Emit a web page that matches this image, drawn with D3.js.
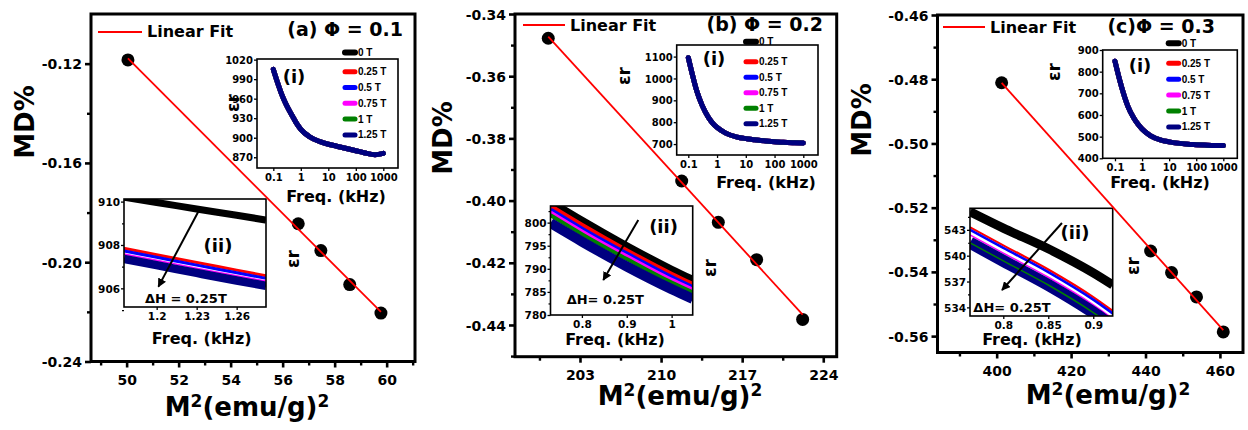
<!DOCTYPE html>
<html><head><meta charset="utf-8">
<script src="https://cdn.jsdelivr.net/npm/d3@7"></script>
<style>
html,body{margin:0;padding:0;background:#fff;}
svg{display:block;}
text{font-family:"DejaVu Sans","Liberation Sans",sans-serif;font-weight:bold;fill:#000;}
</style></head><body>
<svg id="chart" width="1248" height="430"></svg>
<script>
// ---------------- DATA ----------------
const panelIds = ["a", "b", "c"];
const titles = ["(a) \u03A6 = 0.1", "(b) \u03A6 = 0.2", "(c)\u03A6 = 0.3"];
const fitLabel = "Linear Fit";
const fields = ["0 T", "0.25 T", "0.5 T", "0.75 T", "1 T", "1.25 T"];
const fieldColors = ["#000000", "#ff0000", "#0000ff", "#ff00ff", "#008000", "#000080"];

// main panels: M^2 vs MD%
const aM2 = [50.05, 56.6, 57.47, 58.58, 59.78];
const aMD = [-0.1185, -0.1845, -0.1953, -0.2090, -0.2205];
const bM2 = [200.26, 211.78, 214.94, 218.25, 222.22];
const bMD = [-0.3478, -0.3937, -0.4070, -0.4190, -0.4382];
const cM2 = [401.34, 441.38, 447.0, 453.7, 460.9];
const cMD = [-0.4811, -0.5335, -0.5402, -0.5478, -0.5587];

const aXTicks = [50, 52, 54, 56, 58, 60];
const aYTicks = [-0.24, -0.20, -0.16, -0.12];
const bXTicks = [203, 210, 217, 224];
const bYTicks = [-0.44, -0.42, -0.40, -0.38, -0.36, -0.34];
const cXTicks = [400, 420, 440, 460];
const cYTicks = [-0.56, -0.54, -0.52, -0.50, -0.48, -0.46];
const aXMinor = [49, 51, 53, 55, 57, 59, 61];
const aYMinor = [-0.22, -0.18, -0.14];
const bXMinor = [199.5, 206.5, 213.5, 220.5];
const bYMinor = [-0.45, -0.43, -0.41, -0.39, -0.37, -0.35];
const cXMinor = [390, 410, 430, 450];
const cYMinor = [-0.55, -0.53, -0.51, -0.49, -0.47];

// inset (i): permittivity vs frequency (all fields overlap)
const freqI = [0.1, 0.15, 0.2, 0.3, 0.5, 0.7, 1, 2, 5, 10, 20, 50, 100, 200, 500, 1000];
const aEpsI = [1005, 982, 967, 950, 933, 922, 913, 902, 894, 890, 887, 883, 880, 877, 874, 876];
const bEpsI = [1095, 1000, 940, 878, 822, 796, 776, 750, 732, 725, 720, 714, 711, 708, 706, 705];
const cEpsI = [848, 760, 705, 640, 585, 558, 535, 505, 484, 476, 470, 465, 463, 461, 459, 459];
const freqITicks = [0.1, 1, 10, 100, 1000];
const aEpsITicks = [870, 900, 930, 960, 990, 1020];
const bEpsITicks = [700, 800, 900, 1000, 1100];
const cEpsITicks = [400, 500, 600, 700, 800, 900];

// inset (ii): zoomed permittivity vs frequency, one series per field
const aFreqII = [1.1755, 1.20, 1.23, 1.26, 1.282];
const aEpsII = [
  [910.20, 909.96, 909.66, 909.37, 909.15],
  [907.85, 907.55, 907.19, 906.84, 906.58],
  [907.72, 907.43, 907.07, 906.72, 906.46],
  [907.58, 907.29, 906.93, 906.58, 906.33],
  [907.36, 907.07, 906.71, 906.36, 906.12],
  [907.36, 907.07, 906.71, 906.36, 906.12]
];
const bFreqII = [0.73, 0.8, 0.9, 1.0, 1.047];
const bEpsII = [
  [804.5, 800.4, 794.9, 789.8, 787.6],
  [803.4, 799.3, 793.8, 788.7, 786.5],
  [802.7, 798.6, 793.2, 788.1, 785.9],
  [802.2, 798.1, 792.7, 787.6, 785.5],
  [801.6, 797.5, 792.1, 787.0, 784.9],
  [799.9, 795.9, 790.5, 785.6, 783.5]
];
const cFreqII = [0.763, 0.8, 0.85, 0.9, 0.9216];
const cEpsII = [
  [545.1, 543.2, 540.8, 538.0, 536.6],
  [543.3, 541.2, 538.4, 535.2, 533.6],
  [543.0, 540.9, 538.1, 534.9, 533.3],
  [542.4, 540.3, 537.5, 534.3, 532.7],
  [541.5, 539.4, 536.6, 533.4, 531.8],
  [541.5, 539.4, 536.6, 533.4, 531.8]
];
const aFreqIITicks = [1.2, 1.23, 1.26];
const aEpsIITicks = [906, 908, 910];
const aEpsIIMinor = [905, 907, 909];
const bFreqIITicks = [0.8, 0.9, 1];
const bEpsIITicks = [780, 785, 790, 795, 800];
const bEpsIIMinor = [782.5, 787.5, 792.5, 797.5, 802.5];
const cFreqIITicks = [0.8, 0.85, 0.9];
const cEpsIITicks = [534, 537, 540, 543];
const cEpsIIMinor = [535.5, 538.5, 541.5, 544.5];
const deltaLabel = ["\u0394H = 0.25T", "\u0394H= 0.25T", "\u0394H= 0.25T"];

// ---------------- LAYOUT ----------------
const layout = {
  a: {
    frame: [91, 14, 415, 361.5], xDom: [48.63, 61.09], yDom: [-0.24, -0.10],
    ylab: [25, 122], xlab: [247, 416], title: [403, 36], fit: [98, 142, 32, 147, 37],
    inI: { frame: [257, 59, 398, 168], xDom: [0.0255, 3425], yDom: [853.5, 1021],
      lab: [294, 76], eps: [233, 103], freq: [336, 202],
      leg: { x: 343, y0: 52.5, y1: 71.7, dy: 15.8 } },
    inII: { frame: [124, 199, 266, 307], xDom: [1.1755, 1.282], yDom: [905.14, 910.12],
      widths: [7, 3, 3, 1.6, 2, 8.5], greenOnTop: false,
      arrow: [[1.2312, 909.53], [1.2013, 906.08]], lab: [1.246, 907.97], dlab: [1.1912, 905.34],
      eps: [293, 259], freq: [201.7, 344] }
  },
  b: {
    frame: [515, 14, 836.7, 356.7], xDom: [197.39, 225.16], yDom: [-0.4502, -0.34],
    ylab: [443, 138], xlab: [680, 405], title: [823, 31], fit: [523, 565, 25, 570, 31],
    inI: { frame: [676.7, 45, 818, 155], xDom: [0.0395, 3245], yDom: [650, 1153],
      lab: [714, 58], eps: [624, 76], freq: [766, 188],
      leg: { x: 744, y0: 41.7, y1: 61.7, dy: 15.5 } },
    inII: { frame: [550.5, 206, 692.7, 315], xDom: [0.73, 1.047], yDom: [780, 803.6],
      widths: [8, 6, 5, 4, 4, 10], greenOnTop: false,
      arrow: [[0.9257, 800.57], [0.8477, 787.58]], lab: [0.982, 799.1], dlab: [0.766, 782.3],
      eps: [710, 268], freq: [615, 345] }
  },
  c: {
    frame: [937.5, 15, 1243, 352.5], xDom: [384.1, 466.2], yDom: [-0.5651, -0.46],
    ylab: [862, 120], xlab: [1108, 404], title: [1215, 33], fit: [943, 985, 27, 990, 33],
    inI: { frame: [1102.7, 50, 1237.3, 158.3], xDom: [0.0352, 3285], yDom: [400, 900],
      lab: [1140, 65], eps: [1054, 72], freq: [1160, 188],
      leg: { x: 1166.7, y0: 43.3, y1: 63.3, dy: 15.9 } },
    inII: { frame: [970, 208.3, 1112.7, 316], xDom: [0.763, 0.9216], yDom: [533, 545.5],
      widths: [9, 2.2, 2.5, 1.5, 1.5, 12], greenOnTop: true,
      arrow: [[0.8652, 543.79], [0.7986, 536.02]], lab: [0.8797, 542.7], dlab: [0.7667, 533.5],
      eps: [1133, 266], freq: [1032, 345] }
  }
};

const mainData = {
  a: { xs: aM2, ys: aMD, xT: aXTicks, yT: aYTicks, xM: aXMinor, yM: aYMinor,
       epsI: aEpsI, epsIT: aEpsITicks, fII: aFreqII, eII: aEpsII, fIIT: aFreqIITicks, eIIT: aEpsIITicks, eIIM: aEpsIIMinor },
  b: { xs: bM2, ys: bMD, xT: bXTicks, yT: bYTicks, xM: bXMinor, yM: bYMinor,
       epsI: bEpsI, epsIT: bEpsITicks, fII: bFreqII, eII: bEpsII, fIIT: bFreqIITicks, eIIT: bEpsIITicks, eIIM: bEpsIIMinor },
  c: { xs: cM2, ys: cMD, xT: cXTicks, yT: cYTicks, xM: cXMinor, yM: cYMinor,
       epsI: cEpsI, epsIT: cEpsITicks, fII: cFreqII, eII: cEpsII, fIIT: cFreqIITicks, eIIT: cEpsIITicks, eIIM: cEpsIIMinor }
};

// ---------------- DRAW ----------------
const svg = d3.select("#chart");
const defs = svg.append("defs");
defs.append("marker").attr("id", "arr").attr("viewBox", "0 0 10 10")
  .attr("refX", 9).attr("refY", 5).attr("markerWidth", 4.4).attr("markerHeight", 4.4)
  .attr("markerUnits", "strokeWidth").attr("orient", "auto")
  .append("path").attr("d", "M0,0 L10,5 L0,10 Z").attr("fill", "#000");

function styleAxis(sel, fs, sw) {
  sel.select(".domain").remove();
  sel.selectAll(".tick line").attr("stroke", "#000").attr("stroke-width", sw);
  sel.selectAll(".tick text").style("font-size", fs + "px")
    .style("font-family", "'DejaVu Sans',sans-serif").style("font-weight", "bold").attr("fill", "#000");
}

function drawFrame(g, f, sw) {
  g.append("rect").attr("x", f[0]).attr("y", f[1]).attr("width", f[2] - f[0]).attr("height", f[3] - f[1])
    .attr("fill", "none").attr("stroke", "#000").attr("stroke-width", sw);
}

function epsLabel(g, p, fs) {
  g.append("text").attr("transform", `translate(${p[0]},${p[1]}) rotate(-90)`)
    .attr("text-anchor", "middle").attr("dominant-baseline", "central")
    .style("font-size", fs + "px").text("\u03B5r");
}

panelIds.forEach((id, pi) => {
  const L = layout[id], D = mainData[id];
  const g = svg.append("g").attr("class", "panel-" + id);
  const [fx0, fy0, fx1, fy1] = L.frame;
  const x = d3.scaleLinear().domain(L.xDom).range([fx0, fx1]);
  const y = d3.scaleLinear().domain(L.yDom).range([fy1, fy0]);

  // axes
  const gx = g.append("g").attr("transform", `translate(0,${fy1})`)
    .call(d3.axisBottom(x).tickValues(D.xT).tickSize(6).tickFormat(d => String(d)));
  styleAxis(gx, 14, 2.6);
  gx.selectAll(".tick text").attr("y", 23).attr("dy", 0);
  const gxm = g.append("g").attr("transform", `translate(0,${fy1})`)
    .call(d3.axisBottom(x).tickValues(D.xM).tickSize(4).tickFormat(""));
  styleAxis(gxm, 14, 2.4);
  const gy = g.append("g").attr("transform", `translate(${fx0},0)`)
    .call(d3.axisLeft(y).tickValues(D.yT).tickSize(6).tickPadding(3).tickFormat(d => d.toFixed(2)));
  styleAxis(gy, 14, 2.6);
  gy.selectAll(".tick text").attr("dy", "0.36em");
  const gym = g.append("g").attr("transform", `translate(${fx0},0)`)
    .call(d3.axisLeft(y).tickValues(D.yM).tickSize(4).tickFormat(""));
  styleAxis(gym, 14, 2.4);

  // axis labels
  g.append("text").attr("transform", `translate(${L.ylab[0]},${L.ylab[1]}) rotate(-90)`)
    .attr("text-anchor", "middle").attr("dominant-baseline", "central")
    .style("font-size", "26px").text("MD%");
  const xl = g.append("text").attr("x", L.xlab[0]).attr("y", L.xlab[1]).attr("text-anchor", "middle")
    .style("font-size", "26px");
  xl.append("tspan").text("M");
  xl.append("tspan").attr("dy", -9).style("font-size", "17px").text("2");
  xl.append("tspan").attr("dy", 9).text("(emu/g)");
  xl.append("tspan").attr("dy", -9).style("font-size", "17px").text("2");

  // linear fit (least squares)
  const n = D.xs.length;
  const mx = d3.mean(D.xs), my = d3.mean(D.ys);
  let sxy = 0, sxx = 0;
  for (let i = 0; i < n; i++) { sxy += (D.xs[i] - mx) * (D.ys[i] - my); sxx += (D.xs[i] - mx) ** 2; }
  const slope = sxy / sxx, icpt = my - slope * mx;
  const xe = d3.extent(D.xs);

  // legend + title
  g.append("line").attr("x1", L.fit[0]).attr("x2", L.fit[1]).attr("y1", L.fit[2]).attr("y2", L.fit[2])
    .attr("stroke", "#ff0000").attr("stroke-width", 2);
  g.append("text").attr("x", L.fit[3]).attr("y", L.fit[4]).style("font-size", "16px").text(fitLabel);
  g.append("text").attr("x", L.title[0]).attr("y", L.title[1]).attr("text-anchor", "end")
    .style("font-size", "19px").text(titles[pi]);

  // ---- inset (i)
  const I = L.inI;
  const xi = d3.scaleLog().domain(I.xDom).range([I.frame[0], I.frame[2]]);
  const yi = d3.scaleLinear().domain(I.yDom).range([I.frame[3], I.frame[1]]);
  g.append("rect").attr("x", I.frame[0]).attr("y", I.frame[1]).attr("width", I.frame[2] - I.frame[0])
    .attr("height", I.frame[3] - I.frame[1]).attr("fill", "#fff");
  const gxi = g.append("g").attr("transform", `translate(0,${I.frame[3]})`)
    .call(d3.axisBottom(xi).tickValues(freqITicks).tickSize(3).tickFormat(d => String(d)));
  styleAxis(gxi, 10, 1.3);
  gxi.selectAll(".tick text").attr("y", 13).attr("dy", 0);
  const gyi = g.append("g").attr("transform", `translate(${I.frame[0]},0)`)
    .call(d3.axisLeft(yi).tickValues(D.epsIT).tickSize(3).tickPadding(1).tickFormat(d => String(d)));
  styleAxis(gyi, 10, 1.3);
  gyi.selectAll(".tick text").attr("dy", "0.36em");
  const lineI = d3.line().x((d, i) => xi(freqI[i])).y(d => yi(d)).curve(d3.curveMonotoneX);
  fields.forEach((f, k) => {
    g.append("path").attr("d", lineI(D.epsI)).attr("fill", "none")
      .attr("stroke", fieldColors[k]).attr("stroke-width", 5).attr("stroke-linecap", "round");
  });
  drawFrame(g, I.frame, 1.6);
  g.append("text").attr("x", I.lab[0]).attr("y", I.lab[1]).attr("text-anchor", "middle")
    .attr("dominant-baseline", "central").style("font-size", "18px").text("(i)");
  epsLabel(g, I.eps, 17);
  g.append("text").attr("x", I.freq[0]).attr("y", I.freq[1]).attr("text-anchor", "middle")
    .style("font-size", "16px").text("Freq. (kHz)");
  fields.forEach((f, k) => {
    const yy = k === 0 ? I.leg.y0 : I.leg.y1 + (k - 1) * I.leg.dy;
    g.append("line").attr("x1", I.leg.x + 2).attr("x2", I.leg.x + 12).attr("y1", yy).attr("y2", yy)
      .attr("stroke", fieldColors[k]).attr("stroke-width", k === 0 ? 6 : 5).attr("stroke-linecap", "round");
    g.append("text").attr("x", I.leg.x + 15).attr("y", yy).attr("dominant-baseline", "central")
      .style("font-family", "'Liberation Sans',Arial,sans-serif").style("font-size", "10px").text(f);
  });

  // ---- inset (ii)
  const J = L.inII;
  const xj = d3.scaleLinear().domain(J.xDom).range([J.frame[0], J.frame[2]]);
  const yj = d3.scaleLinear().domain(J.yDom).range([J.frame[3], J.frame[1]]);
  g.append("rect").attr("x", J.frame[0]).attr("y", J.frame[1]).attr("width", J.frame[2] - J.frame[0])
    .attr("height", J.frame[3] - J.frame[1]).attr("fill", "#fff");
  const cid = "clip-" + id;
  defs.append("clipPath").attr("id", cid).append("rect").attr("x", J.frame[0]).attr("y", J.frame[1])
    .attr("width", J.frame[2] - J.frame[0]).attr("height", J.frame[3] - J.frame[1]);
  const gxj = g.append("g").attr("transform", `translate(0,${J.frame[3]})`)
    .call(d3.axisBottom(xj).tickValues(D.fIIT).tickSize(3).tickFormat(d => String(d)));
  styleAxis(gxj, 10.5, 1.3);
  gxj.selectAll(".tick text").attr("y", 13).attr("dy", 0);
  const gyj = g.append("g").attr("transform", `translate(${J.frame[0]},0)`)
    .call(d3.axisLeft(yj).tickValues(D.eIIT).tickSize(3).tickPadding(1).tickFormat(d => String(d)));
  styleAxis(gyj, 10.5, 1.3);
  gyj.selectAll(".tick text").attr("dy", "0.36em");
  const gyjm = g.append("g").attr("transform", `translate(${J.frame[0]},0)`)
    .call(d3.axisLeft(yj).tickValues(D.eIIM).tickSize(2).tickFormat(""));
  styleAxis(gyjm, 10, 1.2);
  const lineJ = d3.line().x((d, i) => xj(D.fII[i])).y(d => yj(d)).curve(d3.curveMonotoneX);
  const cg = g.append("g").attr("clip-path", `url(#${cid})`);
  let order = [0, 1, 2, 3, 4, 5];
  if (J.greenOnTop) order = [0, 1, 2, 3, 5, 4];
  order.forEach(k => {
    cg.append("path").attr("d", lineJ(D.eII[k])).attr("fill", "none")
      .attr("stroke", fieldColors[k]).attr("stroke-width", J.widths[k]);
  });
  drawFrame(g, J.frame, 1.6);
  g.append("line").attr("x1", xj(J.arrow[0][0])).attr("y1", yj(J.arrow[0][1]))
    .attr("x2", xj(J.arrow[1][0])).attr("y2", yj(J.arrow[1][1]))
    .attr("stroke", "#000").attr("stroke-width", 2).attr("marker-end", "url(#arr)");
  g.append("text").attr("x", xj(J.lab[0])).attr("y", yj(J.lab[1])).attr("text-anchor", "middle")
    .attr("dominant-baseline", "central").style("font-size", "18px").text("(ii)");
  g.append("text").attr("x", xj(J.dlab[0])).attr("y", yj(J.dlab[1]))
    .style("font-size", "13px").text(deltaLabel[pi]);
  epsLabel(g, J.eps, 17);
  g.append("text").attr("x", J.freq[0]).attr("y", J.freq[1]).attr("text-anchor", "middle")
    .style("font-size", "16px").text("Freq. (kHz)");

  // main frame + points + fit line (on top)
  drawFrame(g, L.frame, 3);
  g.selectAll("circle.pt").data(D.xs).enter().append("circle").attr("class", "pt")
    .attr("cx", d => x(d)).attr("cy", (d, i) => y(D.ys[i])).attr("r", 6.5).attr("fill", "#000");
  g.append("line").attr("x1", x(xe[0])).attr("y1", y(icpt + slope * xe[0]))
    .attr("x2", x(xe[1])).attr("y2", y(icpt + slope * xe[1]))
    .attr("stroke", "#ff0000").attr("stroke-width", 1.8);
});
</script></body></html>
